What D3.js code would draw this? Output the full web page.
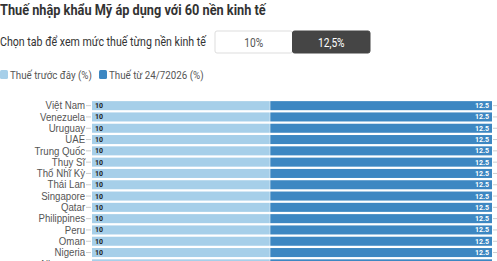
<!DOCTYPE html>
<html>
<head>
<meta charset="utf-8">
<script src="https://cdn.jsdelivr.net/npm/d3@7"></script>
<style>
  body { margin: 0; background: #fff; font-family: Roboto, "Noto Sans", sans-serif; overflow: hidden; }
  .title { font-weight: bold; font-size: 15px; fill: #333; }
  .sub { font-size: 12.5px; fill: #333; }
  .legend { font-size: 11.5px; fill: #555; }
  .axis path { display: none; }
  .axis line { stroke: #ccc; }
  .axis text { font-size: 11.5px; fill: #555; }
  .val { font-size: 7px; font-weight: bold; }
</style>
</head>
<body>
<script>
(function () {

    // countries listed with the 12,5% tab selected
    var countries = ["Việt Nam", "Venezuela", "Uruguay", "UAE", "Trung Quốc", "Thụy Sĩ",
        "Thổ Nhĩ Kỳ", "Thái Lan", "Singapore", "Qatar", "Philippines", "Peru", "Oman",
        "Nigeria", "Nicaragua"];
    var oldRate = [10, 10, 10, 10, 10, 10, 10, 10, 10, 10, 10, 10, 10, 10, 10];
    var newRate = [12.5, 12.5, 12.5, 12.5, 12.5, 12.5, 12.5, 12.5, 12.5, 12.5, 12.5, 12.5, 12.5, 12.5, 12.5];
    var tabs = ["10%", "12,5%"];
    var seriesNames = ["Thuế trước đây (%)", "Thuế từ 24/72026 (%)"];

    var colors = ["#a6cfe9", "#3d87c2"];

    var width = 497,
        height = 261,
        leftPadding = 92,
        rightPadding = 5,
        top = 100,
        narrow = "scale(0.85,1)";

    var svg = d3.select("body")
        .append("svg")
        .attr("width", width)
        .attr("height", height);

    svg.append("text")
        .attr("class", "title")
        .attr("transform", "translate(0,15) " + narrow)
        .text("Thuế nhập khẩu Mỹ áp dụng với 60 nền kinh tế");

    svg.append("text")
        .attr("class", "sub")
        .attr("transform", "translate(0,46) " + narrow)
        .text("Chọn tab để xem mức thuế từng nền kinh tế");

    // tabs
    var tabX = d3.scaleBand().domain(tabs).range([215, 370]);
    var tab = svg.selectAll(".tab")
        .data(tabs)
        .enter()
        .append("g")
        .attr("class", "tab")
        .attr("transform", function (d) { return "translate(" + tabX(d) + ",31)"; });

    tab.append("rect")
        .attr("width", tabX.bandwidth())
        .attr("height", 22)
        .attr("rx", 2)
        .style("fill", function (d, i) { return i == 1 ? "#454545" : "#fff"; })
        .style("stroke", function (d, i) { return i == 1 ? "#454545" : "#ddd"; });

    tab.append("text")
        .attr("transform", "translate(" + (tabX.bandwidth() / 2) + ",15.5) " + narrow)
        .attr("text-anchor", "middle")
        .style("font-size", "12px")
        .style("fill", function (d, i) { return i == 1 ? "#fff" : "#555"; })
        .text(function (d) { return d; });

    // legend
    var legendX = [0, 99];
    var legend = svg.selectAll(".legendItem")
        .data(seriesNames)
        .enter()
        .append("g")
        .attr("transform", function (d, i) { return "translate(" + legendX[i] + ",70)"; });

    legend.append("rect")
        .attr("width", 8)
        .attr("height", 9)
        .attr("rx", 1.5)
        .style("fill", function (d, i) { return colors[i]; });

    legend.append("text")
        .attr("class", "legend")
        .attr("transform", "translate(10,8.5) " + narrow)
        .text(function (d) { return d; });

    // chart
    var step = 11.3;
    var y = d3.scaleBand()
        .domain(countries)
        .range([top, top + step * countries.length])
        .paddingInner(0.2)
        .paddingOuter(0.1);

    var x = d3.scaleLinear()
        .domain([0, 22.5])
        .range([leftPadding, width - rightPadding]);

    var rows = countries.map(function (c, i) {
        return { name: c, a: oldRate[i], b: newRate[i] };
    });

    var yAxis = d3.axisLeft(y).tickSize(5).tickPadding(2);
    var axis = svg.append("g")
        .attr("class", "axis")
        .attr("transform", "translate(" + (leftPadding - 1) + ",0)")
        .call(yAxis);
    axis.selectAll("text")
        .attr("transform", "scale(0.84,1)");

    var yAxisR = d3.axisRight(y).tickSize(4).tickFormat("");
    svg.append("g")
        .attr("class", "axis")
        .attr("transform", "translate(" + (width - rightPadding + 1) + ",0)")
        .call(yAxisR);

    svg.selectAll(".barA")
        .data(rows)
        .enter()
        .append("rect")
        .attr("class", "barA")
        .attr("x", x(0))
        .attr("y", function (d) { return y(d.name); })
        .attr("width", function (d) { return x(d.a) - x(0); })
        .attr("height", y.bandwidth())
        .style("fill", colors[0]);

    svg.selectAll(".barB")
        .data(rows)
        .enter()
        .append("rect")
        .attr("class", "barB")
        .attr("x", function (d) { return x(d.a) + 0.5; })
        .attr("y", function (d) { return y(d.name); })
        .attr("width", function (d) { return x(d.a + d.b) - x(d.a) - 0.5; })
        .attr("height", y.bandwidth())
        .style("fill", colors[1]);

    svg.selectAll(".valA")
        .data(rows)
        .enter()
        .append("text")
        .attr("class", "val")
        .attr("x", x(0) + 3)
        .attr("y", function (d) { return y(d.name) + y.bandwidth() / 2 + 2.5; })
        .style("fill", "#222")
        .text(function (d) { return d.a; });

    svg.selectAll(".valB")
        .data(rows)
        .enter()
        .append("text")
        .attr("class", "val")
        .attr("x", function (d) { return x(d.a + d.b) - 3; })
        .attr("y", function (d) { return y(d.name) + y.bandwidth() / 2 + 2.5; })
        .attr("text-anchor", "end")
        .style("fill", "#fff")
        .text(function (d) { return d.b; });

})();
</script>
</body>
</html>
